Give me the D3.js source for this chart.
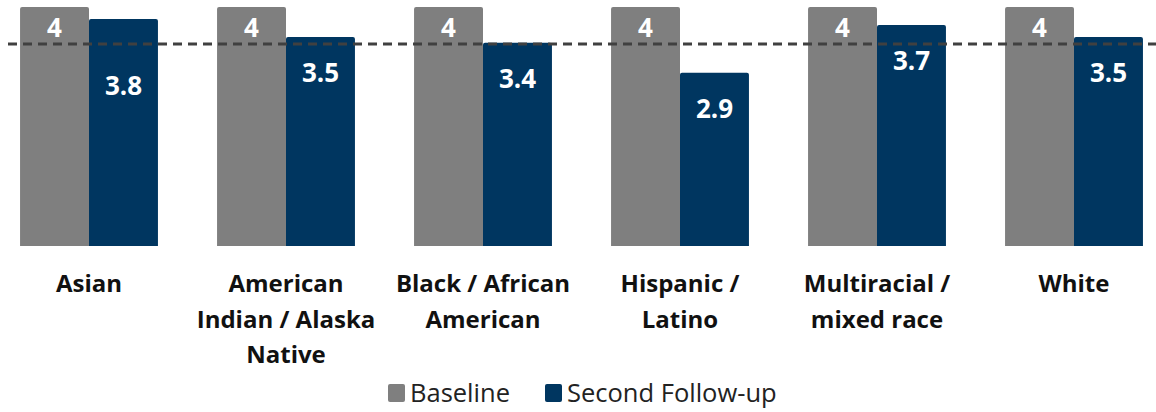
<!DOCTYPE html>
<html><head><meta charset="utf-8">
<script src="https://cdn.jsdelivr.net/npm/d3@7"></script>
<style>body{margin:0;background:#fff}svg{display:block}</style>
</head><body>
<svg id="c" width="1156" height="412"></svg>
<script>
const categories = ["Asian","American Indian / Alaska Native","Black / African American","Hispanic / Latino","Multiracial / mixed race","White"];
const categoryLines = [["Asian"],["American","Indian / Alaska","Native"],["Black / African","American"],["Hispanic /","Latino"],["Multiracial /","mixed race"],["White"]];
const seriesNames = ["Baseline","Second Follow-up"];
const baseline = [4,4,4,4,4,4];
const secondFollowUp = [3.8,3.5,3.4,2.9,3.7,3.5];
const benchmark = 3.38;
const colors = ["#7f7f7f","#003660"];

const font = "'Open Sans', 'Noto Sans', sans-serif";
const svg = d3.select("#c");
const x = d3.scaleBand().domain(categories).range([-9.5,1172.5]).paddingInner(0.3).paddingOuter(0.15);
const xs = d3.scaleBand().domain(seriesNames).range([0,x.bandwidth()]);
const y = d3.scaleLinear().domain([0,4]).range([246,7]);

const data = [];
categories.forEach((c,i)=>{
  data.push({c,s:seriesNames[0],v:baseline[i],i});
  data.push({c,s:seriesNames[1],v:secondFollowUp[i],i});
});
const r = 2;
function barPath(x0,w,yt,yb){
  return `M${x0},${yb}L${x0},${yt+r}Q${x0},${yt} ${x0+r},${yt}L${x0+w-r},${yt}Q${x0+w},${yt} ${x0+w},${yt+r}L${x0+w},${yb}Z`;
}
svg.append("g").selectAll("path").data(data).join("path")
  .attr("d",d=>barPath(x(d.c)+xs(d.s), xs.bandwidth(), y(d.v), y(0)))
  .attr("fill",d=>colors[seriesNames.indexOf(d.s)]);

// benchmark line
svg.append("line").attr("x1",8).attr("x2",1156).attr("y1",y(benchmark)).attr("y2",y(benchmark))
  .attr("stroke","#404040").attr("stroke-width",3).attr("stroke-dasharray","9,6");

// value labels
const labelNudge = [31,0,0,0,0,0];
svg.append("g").selectAll("text").data(data).join("text")
  .attr("x",d=>x(d.c)+xs(d.s)+xs.bandwidth()/2)
  .attr("y",d=> d.s===seriesNames[0] ? y(d.v)+30 : y(d.v)+45+labelNudge[d.i])
  .attr("text-anchor","middle").attr("fill","#fff")
  .attr("font-family",font).attr("font-weight","bold").attr("font-size",26)
  .text(d=>d.v);

// category labels
const cl = svg.append("g").selectAll("text").data(categories).join("text")
  .attr("x",d=>x(d)+x.bandwidth()/2).attr("y",292)
  .attr("text-anchor","middle").attr("fill","#111")
  .attr("font-family",font).attr("font-weight","bold").attr("font-size",24);
cl.each(function(d,i){
  const t=d3.select(this);
  categoryLines[i].forEach((ln,j)=>t.append("tspan").attr("x",x(d)+x.bandwidth()/2).attr("dy",j?35.5:0).text(ln));
});

// legend
const lg = svg.append("g");
const legX = [388,545];
seriesNames.forEach((s,i)=>{
  lg.append("rect").attr("x",legX[i]).attr("y",384).attr("width",17).attr("height",18).attr("rx",2).attr("fill",colors[i]);
  lg.append("text").attr("x",legX[i]+22).attr("y",402).attr("font-family",font).attr("font-size",25.5).attr("fill","#222").text(s);
});
</script>
</body></html>
